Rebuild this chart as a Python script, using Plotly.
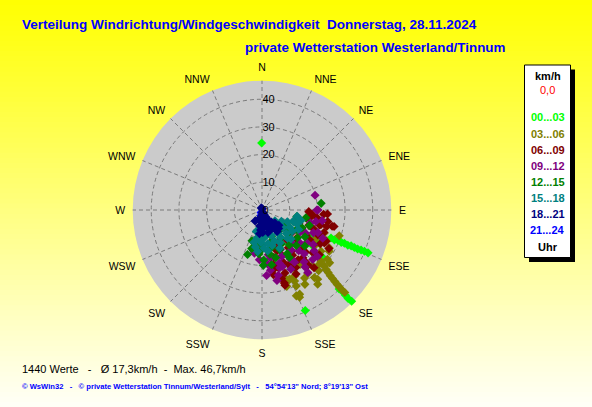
import plotly.graph_objects as go

# ---------------- data ----------------
dir_labels = ["N", "NNE", "NE", "ENE", "E", "ESE", "SE", "SSE",
              "S", "SSW", "SW", "WSW", "W", "WNW", "NW", "NNW"]
dir_ticks = [0, 22.5, 45, 67.5, 90, 112.5, 135, 157.5,
             180, 202.5, 225, 247.5, 270, 292.5, 315, 337.5]
radial_ticks = [0, 10, 20, 30, 40]

group_labels = ["00...03", "03...06", "06...09", "09...12",
                "12...15", "15...18", "18...21", "21...24"]
group_colors = ["#00FF00", "#808000", "#800000", "#800080",
                "#008000", "#008080", "#000080", "#0000FF"]

# 00-03 h
dir_00_03 = [112.1, 112.4, 111.8, 112.2, 112.0, 112.3, 111.9, 112.1, 112.2, 112.0, 111.9, 112.0,
             135.7, 135.4, 135.6, 135.8, 135.5, 156.7, 359.7, 130, 128, 125, 120, 118]
spd_00_03 = [26.9, 28.3, 29.6, 30.9, 32.1, 33.5, 34.7, 36.0, 37.3, 38.6, 39.9, 41.3,
             39.9, 41.5, 43.1, 44.6, 46.2, 39.5, 24.2, 25, 28, 22, 24, 20]

# 03-06 h
dir_03_06 = [132.0, 132.8, 133.4, 133.9, 134.2, 134.5, 134.7, 134.9, 135.0, 134.9,
             121.5, 127, 110.3, 108.4, 141.2, 158.2, 160.6, 156.7, 155.7, 159.9,
             155.3, 144.2, 142.2, 143.1, 133.5, 119.4, 131, 153.7, 158.2, 155.9,
             115, 125, 138, 148, 150, 128, 118, 145, 152, 137, 162, 124]
spd_03_06 = [30.3, 31.6, 32.9, 34.2, 35.5, 36.9, 38.2, 39.6, 40.9, 42.2,
             28.5, 29.6, 24, 29.4, 32.1, 33.4, 26.5, 34.3, 30.1, 27.3,
             28.2, 28.3, 30.9, 33.5, 28.5, 27.9, 28.2, 26.6, 26.9, 33.3,
             25, 26, 27, 29, 31, 31, 22, 24, 24, 30, 29, 23]

# 06-09 h
dir_06_09 = [93.5, 102.9, 92, 163, 166, 169.5, 149.7, 104.5, 104.3, 99.8,
             110, 125, 140, 155,
             100, 115, 130, 145, 160,
             95, 108, 120, 132, 144, 156, 166,
             98, 110, 122, 134, 146, 158, 168,
             94, 104, 114, 124, 134, 144, 154, 164,
             100, 110, 120, 130, 140, 150, 160, 170,
             103, 116, 128, 140, 152, 164,
             120, 138, 163, 117.9, 139.5]
spd_06_09 = [23.7, 26.7, 16.9, 28.4, 25.4, 22, 24.1, 21.4, 24.1, 17.4,
             14.2, 13.6, 14.5, 13.9,
             16.3, 15.8, 16.1, 16.6, 15.7,
             18.2, 17.8, 18.4, 17.9, 18.3, 18.0, 17.6,
             20.1, 19.8, 20.4, 20.0, 19.7, 20.3, 20.2,
             22.3, 21.9, 22.1, 22.4, 21.8, 22.2, 22.0, 21.7,
             24.1, 23.8, 24.3, 24.0, 24.4, 23.9, 24.2, 23.7,
             26.0, 25.8, 26.3, 25.9, 26.2, 25.7,
             27.9, 28.1, 27.6, 25.5, 22.7]

# 09-12 h
dir_09_12 = [74.4, 90, 192, 143.8,
             130, 148, 165, 180,
             120, 138, 155, 172, 190,
             105, 118, 131, 144, 157, 170, 183,
             90, 102, 114, 126, 138, 150, 162, 174,
             100, 112, 124, 136, 148, 160, 172,
             115, 128, 141, 154, 166, 176,
             130, 143, 168, 162.8, 134.3]
spd_09_12 = [19.9, 19.8, 15, 28,
             13.1, 12.6, 13.4, 12.9,
             15.9, 16.2, 15.7, 16.3, 15.8,
             18.1, 17.8, 18.3, 17.9, 18.2, 17.7, 18.0,
             20.2, 19.9, 20.3, 20.0, 19.8, 20.4, 20.1, 19.7,
             22.1, 21.8, 22.3, 21.9, 22.2, 21.7, 22.0,
             24.2, 23.9, 24.1, 23.8, 24.3, 23.7,
             26.1, 25.8, 26.0, 21.8, 25.6]

# 12-15 h
dir_12_15 = [83.6, 198, 178.6, 100.7,
             120, 140, 160, 180,
             110, 128, 146, 164, 182, 198,
             105, 120, 135, 150, 165, 180, 195,
             100, 114, 128, 142, 156, 170, 184,
             108, 122, 136, 150, 164, 178,
             130, 150, 170]
spd_12_15 = [21.5, 16.9, 20, 12.8,
             10.2, 9.8, 10.1, 10.3,
             12.1, 11.8, 12.3, 11.9, 12.2, 11.7,
             14.0, 14.3, 13.8, 14.1, 13.9, 14.2, 14.4,
             16.1, 15.8, 16.3, 16.0, 15.7, 16.2, 15.9,
             18.0, 18.3, 17.8, 18.2, 17.9, 18.1,
             20.2, 19.8, 20.1]

# 15-18 h
dir_15_18 = [130, 155, 180,
             120, 140, 160, 180, 195,
             115, 130, 145, 160, 175, 190,
             110, 122, 134, 146, 158, 170, 182, 194,
             112, 125, 138, 151, 164, 177, 190,
             118, 135, 155, 172, 186, 105, 100]
spd_15_18 = [6.1, 5.8, 6.2,
             8.1, 7.9, 8.2, 7.8, 8.0,
             10.1, 9.9, 10.2, 9.8, 10.0, 10.3,
             12.0, 11.8, 12.2, 11.9, 12.1, 12.3, 11.7, 12.0,
             13.6, 13.4, 13.7, 13.5, 13.3, 13.8, 13.6,
             15.0, 14.8, 15.2, 14.9, 15.1, 14.6, 12.9]

# 18-21 h
dir_18_21 = [340, 20, 160, 175, 180, 178, 182, 176, 170, 165,
             160, 155, 150, 145, 140, 138, 150, 158, 168, 172,
             148, 142, 135, 152, 160, 145, 132, 212, 195, 188,
             162, 155, 170, 184, 186, 178, 165]
spd_18_21 = [0.8, 0.5, 1.0, 1.5, 2.5, 3.5, 4.5, 5.5, 2.0, 3.0,
             4.0, 5.0, 6.0, 7.0, 8.0, 9.0, 3.0, 6.0, 4.5, 6.2,
             4.5, 5.5, 6.5, 7.5, 7.0, 9.5, 8.2, 4.7, 3.0, 5.8,
             2.2, 1.8, 0.9, 7.2, 8.6, 8.1, 8.4]

# 21-24 h
dir_21_24 = [200, 180, 170, 160, 175, 190]
spd_21_24 = [1.0, 1.8, 2.5, 3.3, 1.2, 2.0]

group_dirs = [dir_00_03, dir_03_06, dir_06_09, dir_09_12,
              dir_12_15, dir_15_18, dir_18_21, dir_21_24]
group_spds = [spd_00_03, spd_03_06, spd_06_09, spd_09_12,
              spd_12_15, spd_15_18, spd_18_21, spd_21_24]

title_1 = "Verteilung Windrichtung/Windgeschwindigkeit\u00a0\u00a0Donnerstag, 28.11.2024"
title_2 = "private Wetterstation Westerland/Tinnum"
stats_text = "1440 Werte \u00a0\u00a0- \u00a0\u00a0\u00d8 17,3km/h \u00a0- \u00a0Max. 46,7km/h"
footer_text = ("\u00a9 WsWin32 \u00a0\u00a0- \u00a0\u00a0\u00a9 private Wetterstation Tinnum/Westerland/Sylt"
               " \u00a0\u00a0- \u00a0\u00a054\u00b054'13\" Nord; 8\u00b019'13\" Ost")
radial_max = 46.7

# ---------------- figure ----------------
W, H = 592, 407
FONT = "Liberation Sans, Arial, sans-serif"

fig = go.Figure()

# draw order: 21-24 first (hidden under the calm centre), then chronological
order = [7, 0, 1, 2, 3, 4, 5, 6]
for i in order:
    fig.add_trace(go.Scatterpolar(
        r=group_spds[i], theta=group_dirs[i], mode="markers",
        marker=dict(symbol="diamond", size=7, color=group_colors[i], line=dict(width=0)),
        name=group_labels[i], showlegend=False, hoverinfo="skip"))

def px_x(x):
    return x / W

def px_y(y):
    return 1 - y / H

cx, cy, rad = 262, 210, 129.3

fig.update_layout(
    width=W, height=H, margin=dict(l=0, r=0, t=0, b=0),
    paper_bgcolor="#FFFF00", showlegend=False,
    polar=dict(
        domain=dict(x=[px_x(cx - rad), px_x(cx + rad)], y=[px_y(cy + rad), px_y(cy - rad)]),
        bgcolor="#CBCBCB",
        angularaxis=dict(direction="clockwise", rotation=90, tickmode="array",
                         tickvals=dir_ticks, ticktext=dir_labels,
                         showline=False, gridcolor="#7A7A7A", griddash="4px,3px", gridwidth=1,
                         ticks="outside", ticklen=5, tickcolor="rgba(0,0,0,0)",
                         tickfont=dict(family=FONT, size=10.5, color="black")),
        radialaxis=dict(range=[0, radial_max], tickmode="array", tickvals=radial_ticks,
                        angle=90, tickangle=90, side="clockwise", showline=False, ticks="",
                        gridcolor="#7A7A7A", griddash="4px,3px", gridwidth=1,
                        tickfont=dict(family=FONT, size=11, color="black")),
    ),
)

# background gradient (yellow -> pale yellow) as paper bands
nb = 80
shapes = []
for k in range(nb):
    t = (k + 0.5) / nb
    b = int(round(t * 248))
    shapes.append(dict(type="rect", xref="paper", yref="paper", layer="below",
                       x0=0, x1=1, y0=1 - (k + 1) / nb - 0.002, y1=1 - k / nb,
                       fillcolor=f"rgb(255,255,{b})", line=dict(width=0)))

# legend box with shadow
bx0, by0, bx1, by1 = 524.5, 65, 570.5, 257.5
shapes.append(dict(type="rect", xref="paper", yref="paper",
                   x0=px_x(bx0 + 4.5), x1=px_x(bx1 + 4.5), y0=px_y(by1 + 4.5), y1=px_y(by0 + 4.5),
                   fillcolor="black", line=dict(width=0)))
shapes.append(dict(type="rect", xref="paper", yref="paper",
                   x0=px_x(bx0), x1=px_x(bx1), y0=px_y(by1), y1=px_y(by0),
                   fillcolor="white", line=dict(color="black", width=1)))
fig.update_layout(shapes=shapes)

ann = []
ann.append(dict(text=f"<b>{title_1}</b>", x=px_x(20), y=px_y(24), xref="paper", yref="paper",
                xanchor="left", yanchor="middle", showarrow=False,
                font=dict(family=FONT, size=13.5, color="#0000FF")))
ann.append(dict(text=f"<b>{title_2}</b>", x=px_x(243), y=px_y(48), xref="paper", yref="paper",
                xanchor="left", yanchor="middle", showarrow=False,
                font=dict(family=FONT, size=13.4, color="#0000FF")))
ann.append(dict(text=stats_text, x=px_x(20), y=px_y(369), xref="paper", yref="paper",
                xanchor="left", yanchor="middle", showarrow=False,
                font=dict(family=FONT, size=11, color="black")))
ann.append(dict(text=f"<b>{footer_text}</b>", x=px_x(20), y=px_y(386), xref="paper", yref="paper",
                xanchor="left", yanchor="middle", showarrow=False,
                font=dict(family=FONT, size=7.6, color="#0000FF")))

lx = (bx0 + bx1) / 2
ann.append(dict(text="<b>km/h</b>", x=px_x(lx), y=px_y(75.5), xref="paper", yref="paper",
                xanchor="center", yanchor="middle", showarrow=False,
                font=dict(family=FONT, size=11, color="black")))
ann.append(dict(text="0,0", x=px_x(lx), y=px_y(90), xref="paper", yref="paper",
                xanchor="center", yanchor="middle", showarrow=False,
                font=dict(family=FONT, size=11, color="#FF0000")))
y0_leg, dy_leg = 117.5, 16.1
for i, (lab, col) in enumerate(zip(group_labels, group_colors)):
    ann.append(dict(text=f"<b>{lab}</b>", x=px_x(lx), y=px_y(y0_leg + i * dy_leg),
                    xref="paper", yref="paper", xanchor="center", yanchor="middle",
                    showarrow=False, font=dict(family=FONT, size=11, color=col)))
ann.append(dict(text="<b>Uhr</b>", x=px_x(lx), y=px_y(246.5), xref="paper", yref="paper",
                xanchor="center", yanchor="middle", showarrow=False,
                font=dict(family=FONT, size=11, color="black")))
fig.update_layout(annotations=ann)

fig.write_html("out.html", config={"displayModeBar": False},
               post_script="document.body.style.margin='0';"
                           "document.documentElement.style.overflow='hidden';"
                           "document.body.style.overflow='hidden';")
